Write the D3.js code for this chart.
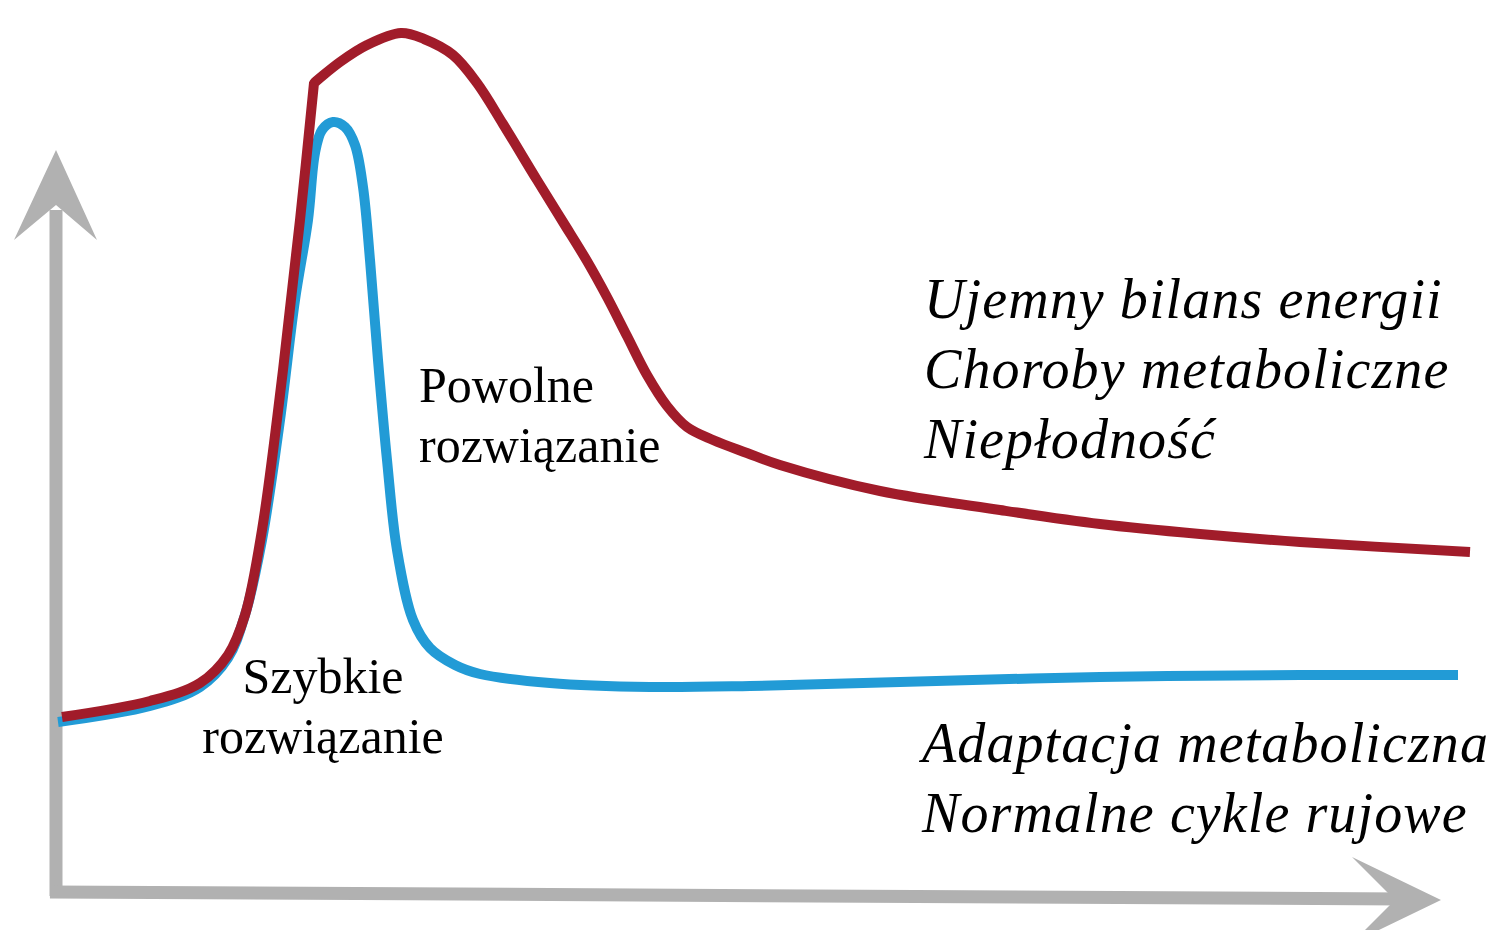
<!DOCTYPE html>
<html>
<head>
<meta charset="utf-8">
<script src="https://cdn.jsdelivr.net/npm/d3@7"></script>
<style>
  html, body { margin: 0; padding: 0; background: #fff; }
  svg { display: block; }
</style>
</head>
<body>
<script>
"use strict"

// time (x) and response level (y) for the two curves, in arbitrary units
var slowX = [0.6, 9.4, 14.4, 17.2, 18.9, 20.6, 22.7, 24.4, 25.8, 28.4, 31.1, 34.5, 36.8, 39.7, 42.1, 44.7, 48.1, 50.7, 53.1, 55.1, 57.1, 59.1, 61.1, 63.1, 65.7, 69.1, 72.4, 82.4, 94.4, 104.4, 114.4, 124.4, 141.4];
var slowY = [17.3, 18.9, 20.7, 23.5, 27.5, 36.0, 52.0, 67.0, 80.7, 82.8, 84.5, 85.7, 85.1, 83.5, 80.7, 76.6, 71.0, 66.8, 62.9, 59.3, 55.4, 51.5, 48.4, 46.3, 45.0, 43.7, 42.5, 39.9, 38.0, 36.6, 35.6, 34.8, 33.8];
var slowCorner = 8; // index where the slow curve bends sharply

var fastX = [0.2, 9.4, 14.4, 17.2, 18.9, 20.6, 22.4, 23.9, 25.2, 25.9, 26.6, 27.7, 28.9, 29.9, 30.7, 31.4, 32.2, 33.1, 34.1, 35.7, 37.4, 39.9, 42.4, 49.4, 59.4, 69.4, 84.4, 104.4, 124.4, 140.2];
var fastY = [16.8, 18.4, 20.3, 23.2, 27.5, 35.0, 47.0, 59.0, 67.0, 73.7, 76.0, 76.8, 76.3, 74.5, 70.3, 63.0, 53.0, 43.0, 34.0, 27.0, 24.2, 22.5, 21.6, 20.7, 20.3, 20.4, 20.8, 21.3, 21.5, 21.5];

var slowLabel = ["Powolne", "rozwiązanie"];
var fastLabel = ["Szybkie", "rozwiązanie"];
var slowOutcomes = ["Ujemny bilans energii", "Choroby metaboliczne", "Niepłodność"];
var fastOutcomes = ["Adaptacja metaboliczna", "Normalne cykle rujowe"];

var width = 1491,
    height = 930;

var svg = d3.select("body").append("svg")
    .attr("width", width)
    .attr("height", height);

var x = d3.scaleLinear().domain([0, 145]).range([56, 1506]);
var y = d3.scaleLinear().domain([0, 86]).range([890, 30]);

var axisColor = "#b1b1b1";

// y axis: shaft + arrow head
svg.append("line")
    .attr("x1", x(0)).attr("y1", y(0) + 6)
    .attr("x2", x(0)).attr("y2", y(68))
    .attr("stroke", axisColor)
    .attr("stroke-width", 13);

svg.append("path")
    .attr("d", "M" + x(0) + "," + y(74) +
               "L" + x(4.1) + "," + y(65) +
               "L" + x(0) + "," + y(68.5) +
               "L" + x(-4.2) + "," + y(65) + "Z")
    .attr("fill", axisColor);

// x axis: shaft (very slightly tilted in the original) + arrow head
svg.append("line")
    .attr("x1", x(-0.6)).attr("y1", y(-0.2))
    .attr("x2", x(135)).attr("y2", y(-0.9))
    .attr("stroke", axisColor)
    .attr("stroke-width", 13);

svg.append("path")
    .attr("d", "M" + x(138.5) + "," + y(-1) +
               "L" + x(129.6) + "," + y(3.3) +
               "L" + x(133.9) + "," + y(-1) +
               "L" + x(129.6) + "," + y(-5.3) + "Z")
    .attr("fill", axisColor);

var line = d3.line()
    .x(function(d) { return x(d[0]); })
    .y(function(d) { return y(d[1]); })
    .curve(d3.curveCatmullRom.alpha(0.5));

var fast = d3.zip(fastX, fastY);
var slow = d3.zip(slowX, slowY);

svg.append("path")
    .datum(fast)
    .attr("d", line)
    .attr("fill", "none")
    .attr("stroke", "#229bd6")
    .attr("stroke-width", 10)
    .attr("stroke-linejoin", "round");

// slow curve: two smooth pieces joined at a sharp bend
var slowPath = line(slow.slice(0, slowCorner + 1)) +
    line(slow.slice(slowCorner)).replace(/^M/, "L");

svg.append("path")
    .attr("d", slowPath)
    .attr("fill", "none")
    .attr("stroke", "#a11c2a")
    .attr("stroke-width", 10)
    .attr("stroke-linejoin", "miter");

// curve labels
var serif = "'Liberation Serif', 'Times New Roman', serif";

svg.selectAll("text.slow")
    .data(slowLabel)
  .enter().append("text")
    .attr("class", "slow")
    .attr("x", 419)
    .attr("y", function(d, i) { return 402 + i * 60; })
    .attr("font-family", serif)
    .attr("font-size", "50px")
    .text(function(d) { return d; });

svg.selectAll("text.fast")
    .data(fastLabel)
  .enter().append("text")
    .attr("class", "fast")
    .attr("x", 323)
    .attr("y", function(d, i) { return 693 + i * 60; })
    .attr("text-anchor", "middle")
    .attr("font-family", serif)
    .attr("font-size", "50px")
    .text(function(d) { return d; });

// outcomes
svg.selectAll("text.slowOut")
    .data(slowOutcomes)
  .enter().append("text")
    .attr("class", "slowOut")
    .attr("x", 924)
    .attr("y", function(d, i) { return 318 + i * 70; })
    .attr("font-family", serif)
    .attr("font-style", "italic")
    .attr("font-size", "56px")
    .attr("letter-spacing", "1.1px")
    .text(function(d) { return d; });

svg.selectAll("text.fastOut")
    .data(fastOutcomes)
  .enter().append("text")
    .attr("class", "fastOut")
    .attr("x", 922)
    .attr("y", function(d, i) { return 762 + i * 70; })
    .attr("font-family", serif)
    .attr("font-style", "italic")
    .attr("font-size", "56px")
    .attr("letter-spacing", "1.1px")
    .text(function(d) { return d; });
</script>
</body>
</html>
